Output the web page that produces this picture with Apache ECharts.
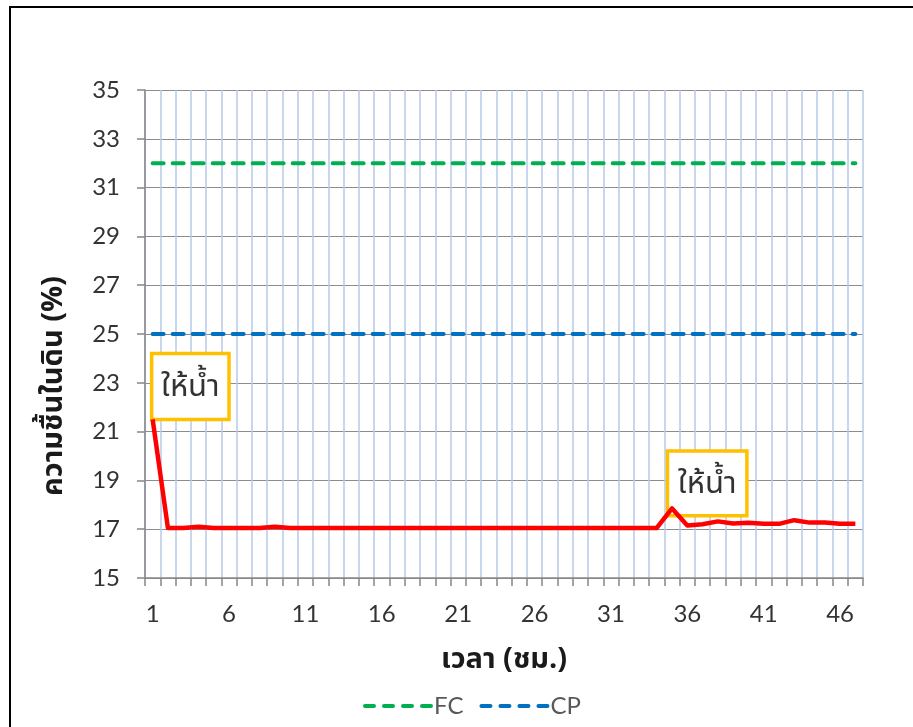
<!DOCTYPE html>
<html>
<head>
<meta charset="utf-8">
<script src="https://cdn.jsdelivr.net/npm/echarts@6/dist/echarts.min.js"></script>
<style>
  html, body { margin: 0; padding: 0; background: #fff; }
  #chart { width: 913px; height: 727px; }
</style>
</head>
<body>
<div id="chart"></div>
<script>
// Hours (category axis)
const hours = ['1','2','3','4','5','6','7','8','9','10','11','12','13','14','15','16',
  '17','18','19','20','21','22','23','24','25','26','27','28','29','30','31','32',
  '33','34','35','36','37','38','39','40','41','42','43','44','45','46','47'];

// Soil moisture (%) per hour
const soilMoisture = [21.5, 17.05, 17.05, 17.1, 17.05, 17.05, 17.05, 17.05, 17.1, 17.05,
  17.05, 17.05, 17.05, 17.05, 17.05, 17.05, 17.05, 17.05, 17.05, 17.05,
  17.05, 17.05, 17.05, 17.05, 17.05, 17.05, 17.05, 17.05, 17.05, 17.05,
  17.05, 17.05, 17.05, 17.05, 17.85, 17.15, 17.2, 17.32, 17.23, 17.26,
  17.22, 17.22, 17.37, 17.27, 17.27, 17.22, 17.22];

// Field capacity (FC) and critical point (CP) reference levels
const fcLine = [32, 32, 32, 32, 32, 32, 32, 32, 32, 32, 32, 32, 32, 32, 32, 32,
  32, 32, 32, 32, 32, 32, 32, 32, 32, 32, 32, 32, 32, 32, 32, 32,
  32, 32, 32, 32, 32, 32, 32, 32, 32, 32, 32, 32, 32, 32, 32];
const cpLine = [25, 25, 25, 25, 25, 25, 25, 25, 25, 25, 25, 25, 25, 25, 25, 25,
  25, 25, 25, 25, 25, 25, 25, 25, 25, 25, 25, 25, 25, 25, 25, 25,
  25, 25, 25, 25, 25, 25, 25, 25, 25, 25, 25, 25, 25, 25, 25];

// Axis ticks
const yMin = 15, yMax = 35, yStep = 2;

const FONT = "Lato, 'Liberation Sans', 'Noto Sans', sans-serif";
const THAI = "'Noto Sans Thai', 'Noto Sans', 'DejaVu Sans', sans-serif";

const G = { left: 145, top: 90, width: 718, height: 488 };

// four short dashes, used as the legend key of the dashed reference lines
const DASH_ICON = 'path://M2,0h9a2,2 0 0 1 0,4h-9a2,2 0 0 1 0,-4z' +
  'M21,0h9a2,2 0 0 1 0,4h-9a2,2 0 0 1 0,-4z' +
  'M40,0h9a2,2 0 0 1 0,4h-9a2,2 0 0 1 0,-4z' +
  'M59,0h9a2,2 0 0 1 0,4h-9a2,2 0 0 1 0,-4z';

const chart = echarts.init(document.getElementById('chart'), null, { renderer: 'canvas' });

function dashedSeries(name, data, color) {
  return {
    name: name,
    type: 'line',
    data: data,
    symbol: 'none',
    silent: true,
    z: 3,
    lineStyle: { color: color, width: 4, type: [11, 9], cap: 'round' },
    itemStyle: { color: color }
  };
}

chart.setOption({
  animation: false,
  backgroundColor: '#fff',
  grid: { left: G.left, top: G.top, width: G.width, height: G.height, containLabel: false },
  legend: {
    data: [{ name: 'FC', icon: DASH_ICON }, { name: 'CP', icon: DASH_ICON }],
    top: 689,
    left: 358,
    itemWidth: 70,
    itemHeight: 4,
    itemGap: 16,
    symbolKeepAspect: false,
    textStyle: { fontFamily: FONT, fontSize: 24, color: '#595959', padding: [0, 0, 0, -4] }
  },
  xAxis: {
    type: 'category',
    data: hours,
    boundaryGap: true,
    axisLine: { lineStyle: { color: '#868686', width: 1.5 } },
    axisTick: { show: true, interval: 0, length: 8, lineStyle: { color: '#868686', width: 1.5 } },
    axisLabel: { interval: 4, fontFamily: FONT, fontSize: 24, color: '#333', margin: 24 },
    splitLine: { show: true, interval: 0, lineStyle: { color: '#B7CAE8', width: 1.5 } }
  },
  yAxis: {
    type: 'value',
    min: yMin, max: yMax, interval: yStep,
    axisLine: { show: true, lineStyle: { color: '#868686', width: 1.5 } },
    axisTick: { show: true, length: 8, lineStyle: { color: '#868686', width: 1.5 } },
    axisLabel: { fontFamily: FONT, fontSize: 24, color: '#333', margin: 25 },
    splitLine: { show: true, lineStyle: { color: '#8C8C8C', width: 1.2 } }
  },
  series: [
    dashedSeries('FC', fcLine, '#00B050'),
    dashedSeries('CP', cpLine, '#0070C0'),
    {
      name: 'soil',
      type: 'line',
      data: soilMoisture,
      symbol: 'none',
      z: 4,
      lineStyle: { color: '#FF0000', width: 4.5, join: 'round' },
      itemStyle: { color: '#FF0000' }
    }
  ]
});

// Annotation boxes and titles, placed from the grid geometry
const catW = G.width / hours.length;
const yPx = v => G.top + (yMax - v) / (yMax - yMin) * G.height;
const xPx = i => G.left + (i + 0.5) * catW;

function noteBox(x0, x1, v0, v1) {
  const y0 = yPx(v0), y1 = yPx(v1);
  return [
    {
      type: 'rect', z: 1,
      shape: { x: x0, y: y0, width: x1 - x0, height: y1 - y0 },
      style: { fill: '#fff', stroke: '#FFC000', lineWidth: 3.5 }
    },
    {
      type: 'text', z: 1,
      x: (x0 + x1) / 2, y: (y0 + y1) / 2 + 3,
      style: { text: 'ให้น้ำ', font: "31px " + THAI, fill: '#333', align: 'center', verticalAlign: 'middle' }
    }
  ];
}

chart.setOption({
  graphic: [
    {
      type: 'rect', z: 0, silent: true,
      shape: { x: 10, y: 7, width: 930, height: 760 },
      style: { fill: 'none', stroke: '#000', lineWidth: 2 }
    },
    ...noteBox(xPx(0) - 1, xPx(5), 24.2, 21.5),
    ...noteBox(xPx(33.7), xPx(38.9), 20.2, 17.55),
    {
      type: 'text', z: 20,
      x: 504, y: 662,
      style: { text: 'เวลา (ชม.)', font: "bold 29px " + THAI, fill: '#1a1a1a', align: 'center', verticalAlign: 'middle' }
    },
    {
      type: 'text', z: 20,
      x: 56, y: 386, rotation: Math.PI / 2,
      style: { text: 'ความชื้นในดิน (%)', font: "bold 29px " + THAI, fill: '#1a1a1a', align: 'center', verticalAlign: 'middle' }
    }
  ]
});
</script>
</body>
</html>
